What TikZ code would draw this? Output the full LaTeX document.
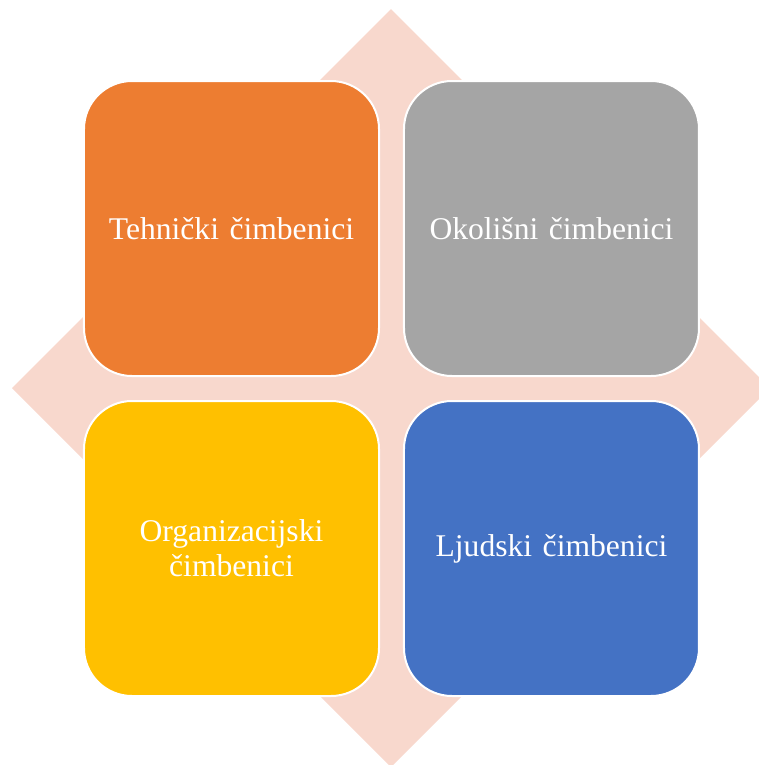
\documentclass[tikz,border=0pt]{standalone}
\usepackage{fontspec}
\setmainfont{Liberation Serif}
\usepackage{xcolor}
\usetikzlibrary{matrix}
\definecolor{diamondpink}{HTML}{F8D8CD}
\definecolor{techorange}{HTML}{ED7D31}
\definecolor{envgray}{HTML}{A5A5A5}
\definecolor{orgyellow}{HTML}{FFC000}
\definecolor{humanblue}{HTML}{4472C4}
\pgfkeys{tikz/factorbox/.style={draw=white,line width=1.5pt,rounded corners=36pt,minimum width=221.25pt,minimum height=221.25pt,inner sep=0pt,outer sep=0pt,text width=200pt,align=center,anchor=center,text=white,font=\fontsize{23.7}{26}\selectfont}}
\pgfkeys{tikz/factormatrix/.style={matrix of nodes,column sep=17.25pt,row sep=17.25pt,inner sep=0pt,nodes={factorbox}}}
\newcommand\backdiamond{
    \fill[diamondpink] (391,9) -- (770,388) -- (391,767) -- (12,388) -- cycle;
}

\begin{document}
\begin{tikzpicture}[x=0.75pt,y=-0.75pt]
    \clip (0,0) rectangle (759,765);
    \backdiamond
    \matrix[factormatrix] (m) at (391.5,388.5) {
        |[fill=techorange]| Tehnički čimbenici & |[fill=envgray]| Okolišni čimbenici \\
        |[fill=orgyellow]| Organizacijski čimbenici & |[fill=humanblue]| Ljudski čimbenici \\
    };
\end{tikzpicture}
\end{document}
